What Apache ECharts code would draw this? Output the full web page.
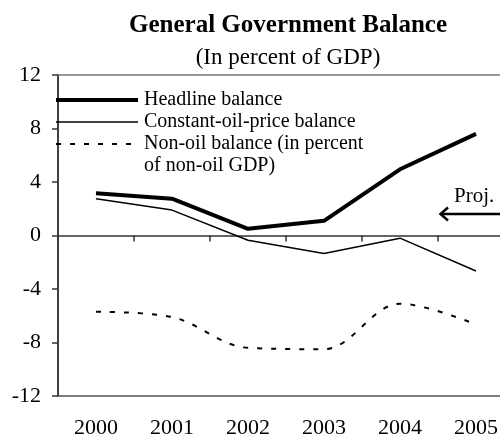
<!DOCTYPE html>
<html>
<head>
<meta charset="utf-8">
<script src="https://cdn.jsdelivr.net/npm/echarts@6/dist/echarts.min.js"></script>
<style>
  html, body { margin: 0; padding: 0; background: #fff; overflow: hidden; }
  #chart { width: 520px; height: 439px; }
</style>
</head>
<body>
<div id="chart"></div>
<script>
// Fiscal balances, percent of GDP (non-oil balance in percent of non-oil GDP)
const years = ['2000', '2001', '2002', '2003', '2004', '2005'];
const headline = [3.15, 2.75, 0.5, 1.1, 4.95, 7.6];
const constantOil = [2.75, 1.9, -0.35, -1.35, -0.2, -2.65];
const nonOil = [-5.7, -6.1, -8.4, -8.5, -5.1, -6.65];
const yTicks = { min: -12, max: 12, step: 4 };

const seriesNames = ['Headline balance', 'Constant-oil-price balance', 'Non-oil balance (in percent', 'of non-oil GDP)'];

const FONT = '"Liberation Serif", "Times New Roman", serif';
const chart = echarts.init(document.getElementById('chart'), null, { renderer: 'canvas' });

const legendX0 = 56, legendX1 = 138, legendTextX = 144;
const legendRows = [100, 122, 144, 166];

const option = {
  animation: false,
  backgroundColor: '#fff',
  title: [
    {
      text: 'General Government Balance',
      left: 283, top: 8, textAlign: 'center',
      textStyle: { fontFamily: FONT, fontWeight: 'bold', fontSize: 25, color: '#000', lineHeight: 25 }
    },
    {
      text: '(In percent of GDP)',
      left: 283, top: 41, textAlign: 'center',
      textStyle: { fontFamily: FONT, fontWeight: 'normal', fontSize: 23, color: '#000', lineHeight: 23 }
    }
  ],
  // plot runs past the right edge of the visible page
  grid: { left: 58, top: 75, width: 456, height: 325, containLabel: false },
  xAxis: [
    {
      type: 'category', data: years, position: 'bottom', boundaryGap: true,
      axisLine: { show: true, onZero: false, lineStyle: { color: '#555', width: 1.5 } },
      axisTick: { show: false },
      axisLabel: { fontFamily: FONT, fontSize: 22, color: '#000', margin: 21 }
    },
    {
      type: 'category', data: years, position: 'bottom', boundaryGap: true,
      axisLine: { show: true, onZero: true, lineStyle: { color: '#333', width: 1.5 } },
      axisTick: { show: true, inside: false, length: 6, lineStyle: { color: '#333', width: 1.5 } },
      axisLabel: { show: false }
    },
    {
      type: 'category', data: years, position: 'top', boundaryGap: true,
      axisLine: { show: true, onZero: false, lineStyle: { color: '#777', width: 1.5 } },
      axisTick: { show: false },
      axisLabel: { show: false }
    }
  ],
  yAxis: {
    type: 'value', min: yTicks.min, max: yTicks.max, interval: yTicks.step,
    splitLine: { show: false },
    axisLine: { show: true, onZero: false, lineStyle: { color: '#000', width: 1.5 } },
    axisTick: { show: true, inside: false, length: 6, lineStyle: { color: '#333', width: 1.5 } },
    axisLabel: { fontFamily: FONT, fontSize: 22, color: '#000', margin: 17 }
  },
  series: [
    {
      name: seriesNames[0], type: 'line', data: headline, symbol: 'none',
      lineStyle: { color: '#000', width: 4 }, z: 4
    },
    {
      name: seriesNames[1], type: 'line', data: constantOil, symbol: 'none',
      lineStyle: { color: '#000', width: 1.5 }, z: 3
    },
    {
      name: seriesNames[2], type: 'line', data: nonOil, symbol: 'none', smooth: 0.35,
      lineStyle: { color: '#000', width: 2, type: [5, 9] }, z: 3
    }
  ],
  graphic: [
    // legend keys
    { type: 'line', shape: { x1: legendX0, y1: legendRows[0], x2: legendX1, y2: legendRows[0] }, style: { stroke: '#000', lineWidth: 4 } },
    { type: 'line', shape: { x1: legendX0, y1: legendRows[1], x2: legendX1, y2: legendRows[1] }, style: { stroke: '#000', lineWidth: 1.5 } },
    { type: 'line', shape: { x1: legendX0, y1: legendRows[2], x2: legendX1, y2: legendRows[2] }, style: { stroke: '#000', lineWidth: 2, lineDash: [5, 9] } },
    ...seriesNames.map((t, i) => ({
      type: 'text', x: legendTextX, y: legendRows[i],
      style: { text: t, font: '20px ' + FONT, fill: '#000', textVerticalAlign: 'middle', textAlign: 'left' }
    })),
    // projection marker
    { type: 'text', x: 454, y: 196, style: { text: 'Proj.', font: '21px ' + FONT, fill: '#000', textVerticalAlign: 'middle', textAlign: 'left' } },
    { type: 'line', shape: { x1: 441, y1: 214, x2: 500, y2: 214 }, style: { stroke: '#000', lineWidth: 2.5 } },
    { type: 'polyline', shape: { points: [[448, 207.5], [440.5, 214], [448, 220.5]] }, style: { stroke: '#000', lineWidth: 2.5, fill: null } }
  ]
};

chart.setOption(option);
</script>
</body>
</html>
